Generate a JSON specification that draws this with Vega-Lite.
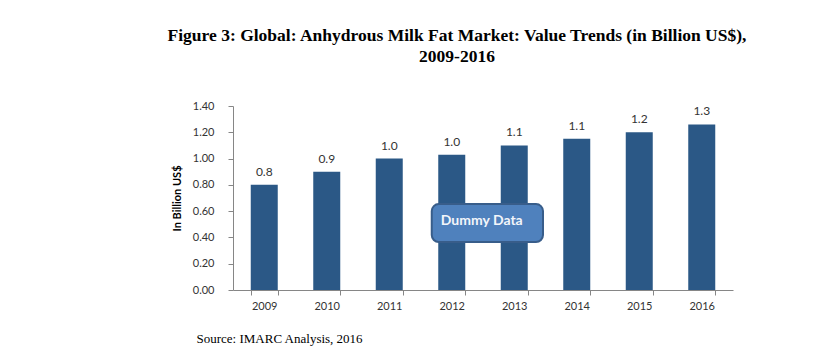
{
  "$schema": "https://vega.github.io/schema/vega-lite/v6.json",
  "width": 500,
  "height": 184,
  "autosize": {"type": "none"},
  "padding": {"left": 233, "top": 106, "right": 88, "bottom": 65},
  "background": "white",
  "config": {
    "view": {"stroke": null},
    "axisY": {"labelOverlap": false, "labelFlush": false, "grid": false}
  },
  "title": {
    "text": ["Figure 3: Global: Anhydrous Milk Fat Market: Value Trends (in Billion US$),", "2009-2016"],
    "font": "Liberation Serif",
    "fontSize": 17.5,
    "fontWeight": "bold",
    "color": "#000000",
    "anchor": "middle",
    "frame": "group",
    "dx": -26,
    "offset": 35,
    "lineHeight": 21
  },
  "datasets": {
    "main": [
      {"year": "2009", "value": 0.80},
      {"year": "2010", "value": 0.90},
      {"year": "2011", "value": 1.00},
      {"year": "2012", "value": 1.03},
      {"year": "2013", "value": 1.10},
      {"year": "2014", "value": 1.15},
      {"year": "2015", "value": 1.20},
      {"year": "2016", "value": 1.26}
    ],
    "note": [
      {"x1": 3.18, "x2": 4.96, "y1": 0.365, "y2": 0.654, "tx": 3.98, "ty": 0.525, "label": "Dummy Data"}
    ]
  },
  "resolve": {"scale": {"x": "independent"}, "axis": {"x": "independent"}},
  "layer": [
    {
      "data": {"name": "main"},
      "layer": [
        {
          "mark": {"type": "bar", "color": "#2b5886"},
          "encoding": {
            "x": {
              "field": "year", "type": "nominal",
              "scale": {"paddingInner": 0.568, "paddingOuter": 0.284},
              "axis": {
                "labelAngle": 0,
                "labelFont": "Lato",
                "labelFontSize": 11,
                "labelColor": "#333333",
                "labelPadding": 5,
                "tickBand": "extent",
                "tickSize": 5,
                "tickColor": "#868686",
                "domainColor": "#868686",
                "title": "Source: IMARC Analysis, 2016",
                "titleFont": "Liberation Serif",
                "titleFontSize": 13,
                "titleFontWeight": "normal",
                "titleColor": "#000000",
                "titleAnchor": null,
                "titleX": -37,
                "titleY": 52,
                "titleAlign": "left",
                "titleBaseline": "alphabetic"
              }
            },
            "y": {
              "field": "value", "type": "quantitative",
              "scale": {"domain": [0, 1.4], "nice": false},
              "axis": {
                "values": [0, 0.2, 0.4, 0.6, 0.8, 1.0, 1.2, 1.4],
                "format": ".2f",
                "labelOverlap": false,
                "grid": false,
                "labelFont": "Lato",
                "labelFontSize": 11,
                "labelColor": "#333333",
                "labelPadding": 14,
                "tickSize": 5,
                "tickColor": "#868686",
                "domainColor": "#868686",
                "title": "In Billion US$",
                "titleFont": "Lato",
                "titleFontSize": 11,
                "titleFontWeight": "bold",
                "titleColor": "#000000",
                "titlePadding": 10
              }
            }
          }
        },
        {
          "mark": {"type": "text", "font": "Lato", "fontSize": 12, "color": "#333333", "baseline": "alphabetic", "dy": -9},
          "encoding": {
            "x": {"field": "year", "type": "nominal"},
            "y": {
              "field": "value", "type": "quantitative",
              "axis": {
                "values": [0, 0.2, 0.4, 0.6, 0.8, 1.0, 1.2, 1.4],
                "format": ".2f",
                "labelOverlap": false,
                "grid": false,
                "labelFont": "Lato",
                "labelFontSize": 11,
                "labelColor": "#333333",
                "labelPadding": 14,
                "tickSize": 5,
                "tickColor": "#868686",
                "domainColor": "#868686",
                "title": "In Billion US$",
                "titleFont": "Lato",
                "titleFontSize": 11,
                "titleFontWeight": "bold",
                "titleColor": "#000000",
                "titlePadding": 10
              }
            },
            "text": {"field": "value", "type": "quantitative", "format": ".1f"}
          }
        }
      ]
    },
    {
      "data": {"name": "note"},
      "layer": [
        {
          "mark": {"type": "rect", "fill": "#4f81bd", "stroke": "#385d8a", "strokeWidth": 2, "cornerRadius": 7},
          "encoding": {
            "x": {"field": "x1", "type": "quantitative", "scale": {"domain": [0, 8], "nice": false, "zero": true}, "axis": null},
            "x2": {"field": "x2"},
            "y": {
              "field": "y1", "type": "quantitative",
              "axis": {
                "values": [0, 0.2, 0.4, 0.6, 0.8, 1.0, 1.2, 1.4],
                "format": ".2f",
                "labelOverlap": false,
                "grid": false,
                "labelFont": "Lato",
                "labelFontSize": 11,
                "labelColor": "#333333",
                "labelPadding": 14,
                "tickSize": 5,
                "tickColor": "#868686",
                "domainColor": "#868686",
                "title": "In Billion US$",
                "titleFont": "Lato",
                "titleFontSize": 11,
                "titleFontWeight": "bold",
                "titleColor": "#000000",
                "titlePadding": 10
              }
            },
            "y2": {"field": "y2"}
          }
        },
        {
          "mark": {"type": "text", "font": "Lato", "fontSize": 14, "fontWeight": "bold", "color": "#f2f5fa", "baseline": "middle", "align": "center"},
          "encoding": {
            "x": {"field": "tx", "type": "quantitative"},
            "y": {
              "field": "ty", "type": "quantitative",
              "axis": {
                "values": [0, 0.2, 0.4, 0.6, 0.8, 1.0, 1.2, 1.4],
                "format": ".2f",
                "labelOverlap": false,
                "grid": false,
                "labelFont": "Lato",
                "labelFontSize": 11,
                "labelColor": "#333333",
                "labelPadding": 14,
                "tickSize": 5,
                "tickColor": "#868686",
                "domainColor": "#868686",
                "title": "In Billion US$",
                "titleFont": "Lato",
                "titleFontSize": 11,
                "titleFontWeight": "bold",
                "titleColor": "#000000",
                "titlePadding": 10
              }
            },
            "text": {"field": "label"}
          }
        }
      ]
    }
  ]
}
